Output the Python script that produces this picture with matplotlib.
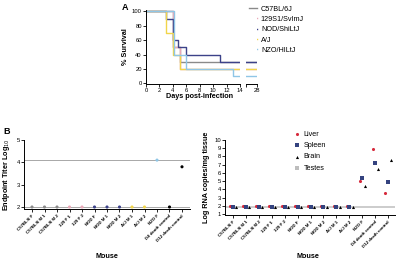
import matplotlib
matplotlib.use('Agg')
import matplotlib.pyplot as plt
import numpy as np

plt.rcParams['font.family'] = ['Liberation Sans', 'DejaVu Sans']

# Panel A: Kaplan-Meier step data (day, % survival)
strains = ['C57BL/6J', '129S1/SvImJ', 'NOD/ShiLtJ', 'A/J', 'NZO/HILtJ']
strain_colors = ['#8a8a8a', '#e9a9b8', '#3c4289', '#f1d54a', '#8fc6e6']
days_c57 = [0, 4, 5, 14]
surv_c57 = [100, 50, 30, 30]
days_129 = [0, 4, 5, 14]
surv_129 = [100, 50, 20, 20]
days_nod = [0, 3, 4, 4.7, 6, 11, 14]
surv_nod = [100, 90, 60, 50, 40, 30, 30]
days_aj = [0, 3, 4, 5, 14]
surv_aj = [100, 70, 40, 20, 20]
days_nzo = [0, 4.2, 6, 13, 14]
surv_nzo = [100, 40, 20, 10, 10]
final_surv = [30, 20, 30, 20, 10]

# Panel B: mice
mice = ['C57BL/6 F', 'C57BL/6 M 1', 'C57BL/6 M 2', '129 F 1', '129 F 2', 'NOD F',
        'NOD M 1', 'NOD M 2', 'A/J M 1', 'A/J M 2', 'NZO F', 'D4 death control',
        'D12 death control']
titer = [2, 2, 2, 2, 2, 2, 2, 2, 2, 2, 4.1, 2, 3.8]
titer_colors = ['#8a8a8a'] * 3 + ['#e9a9b8'] * 2 + ['#3c4289'] * 3 + ['#f1d54a'] * 2 + \
               ['#8fc6e6', 'black', 'black']
liver = [1.95] * 10 + [5.05, 8.9, 3.6]
spleen = [1.85] * 10 + [5.4, 7.15, 4.85]
brain = [1.8] * 10 + [4.45, 6.45, 7.6]
lod_rna = 1.85

W, H = 400, 264
fig = plt.figure(figsize=(W / 100, H / 100), dpi=100)


def box(l, t, r, b):
    return [l / W, 1 - b / H, (r - l) / W, (b - t) / H]


tick_fs = 4.2
lab_fs = 5.2
xt_fs = 3.2

# ---- Panel A ----
ax1 = fig.add_axes(box(146, 10, 240, 84))
ax2 = fig.add_axes(box(246, 10, 257, 84))
all_days = [days_c57, days_129, days_nod, days_aj, days_nzo]
all_surv = [surv_c57, surv_129, surv_nod, surv_aj, surv_nzo]
for d, s, c, name in zip(all_days, all_surv, strain_colors, strains):
    ax1.step(d, s, where='post', color=c, lw=1.0, label=name)
for s, c in zip(final_surv, strain_colors):
    ax2.plot([26, 28], [s, s], color=c, lw=1.0)
for ax in (ax1, ax2):
    ax.set_ylim(-1, 102)
    ax.spines[['top', 'right']].set_visible(False)
    ax.tick_params(labelsize=tick_fs, length=2, width=0.6, pad=1)
    for sp in ax.spines.values():
        sp.set_linewidth(0.7)
ax1.set_xlim(0, 14)
ax1.set_xticks(range(0, 15, 2))
ax1.set_yticks(range(0, 101, 20))
ax1.set_ylabel('% Survival', fontsize=lab_fs, fontweight='bold', labelpad=2)
ax2.set_xlim(26, 28)
ax2.set_xticks([26, 28])
ax2.set_xticklabels(['', '28'])
ax2.spines['left'].set_visible(False)
ax2.set_yticks([])
fig.text(200 / W, 1 - 97 / H, 'Days post-infection', fontsize=lab_fs, fontweight='bold',
         ha='center', va='center')
fig.text(122 / W, 1 - 8 / H, 'A', fontsize=6.5, fontweight='bold', va='center')
ax1.legend(loc='upper left', bbox_to_anchor=(245 / W, 1 - 2 / H), bbox_transform=fig.transFigure,
           frameon=False, fontsize=lab_fs, handlelength=1.2, handletextpad=0.5,
           labelspacing=0.45, borderpad=0)

# ---- Panel B left ----
x = np.arange(len(mice))
axb = fig.add_axes(box(24, 140, 190, 209))
axb.axhline(4.1, color='#9a9a9a', lw=0.6, zorder=1)
axb.axhline(2, color='#9a9a9a', lw=0.6, zorder=1)
axb.scatter(x, titer, c=titer_colors, s=5, zorder=3, linewidths=0)
axb.set_xlim(-0.64, 12.64)
axb.set_ylim(1.91, 5)
axb.set_yticks([2, 3, 4, 5])
axb.set_xticks(x)
axb.set_ylabel('Endpoint Titer Log$_{10}$', fontsize=lab_fs, fontweight='bold', labelpad=3)
fig.text(107 / W, 1 - 257 / H, 'Mouse', fontsize=lab_fs, fontweight='bold',
         ha='center', va='center')
fig.text(3 / W, 1 - 131 / H, 'B', fontsize=6.5, fontweight='bold', va='center')

# ---- Panel B right ----
axr = fig.add_axes(box(225, 140, 395, 215))
axr.axhline(lod_rna, color='#c8c8c8', lw=1.3, zorder=1)
axr.scatter(x - 0.2, liver, color='#d62a3c', s=5, marker='o', linewidths=0, zorder=3, label='Liver')
axr.scatter(x, spleen, color='#34437f', s=5, marker='s', linewidths=0, zorder=3, label='Spleen')
axr.scatter(x + 0.25, brain, color='black', s=5, marker='^', linewidths=0, zorder=3, label='Brain')
axr.scatter([], [], color='#bdbdbd', s=5, marker='s', linewidths=0, label='Testes')
axr.set_xlim(-0.62, 12.54)
axr.set_ylim(0.88, 10)
axr.set_yticks(range(1, 11))
axr.set_xticks(x)
axr.set_ylabel('Log RNA copies/mg tissue', fontsize=lab_fs, fontweight='bold', labelpad=3)
fig.text(308 / W, 1 - 257 / H, 'Mouse', fontsize=lab_fs, fontweight='bold',
         ha='center', va='center')
axr.legend(loc='upper left', bbox_to_anchor=(290 / W, 1 - 127 / H), bbox_transform=fig.transFigure,
           frameon=False, fontsize=lab_fs, handlelength=0.8, handletextpad=0.6,
           labelspacing=0.6, borderpad=0)

for ax in (axb, axr):
    ax.set_xticklabels(mice, rotation=45, ha='right', rotation_mode='anchor', fontsize=xt_fs,
                       fontweight='bold')
    ax.spines[['top', 'right']].set_visible(False)
    ax.tick_params(labelsize=tick_fs, length=2, width=0.6, pad=1)
    ax.tick_params(axis='x', labelsize=xt_fs, pad=1.5)
    for sp in ax.spines.values():
        sp.set_linewidth(0.7)

fig.savefig('out.png', dpi=100)
